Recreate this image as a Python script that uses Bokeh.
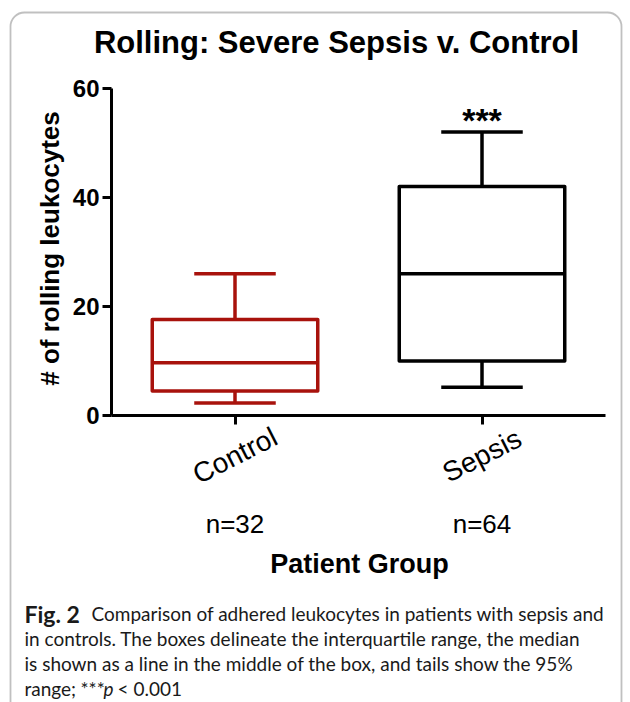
from math import pi
from bokeh.plotting import figure
from bokeh.models import (ColumnDataSource, Range1d, Label, BoxAnnotation, FixedTicker,
                          LinearAxis, Grid)
from bokeh.transform import dodge
from bokeh.core.properties import value
from bokeh.embed import file_html
from bokeh.resources import INLINE

# ---- data ----
groups = ["Control", "Sepsis"]
n_labels = ["n=32", "n=64"]
whisker_low = [2.3, 5.2]
q1 = [4.5, 10.0]
median = [9.7, 26.0]
q3 = [17.6, 42.0]
whisker_high = [26.0, 52.0]
colors = ["#A8120C", "#000000"]
sig_marks = ["", "***"]
y_ticks = [0, 20, 40, 60]

title_text = "Rolling: Severe Sepsis v. Control"
y_label = "# of rolling leukocytes"
x_label = "Patient Group"

# category slots: each group occupies one unit, centred at i + 0.5
cat_pos = [i + 0.5 for i in range(len(groups))]
X_AXIS_BOUNDS = (0, len(groups))
Y_AXIS_BOUNDS = (y_ticks[0], y_ticks[-1])

BOX_W = 0.67
CAP_W = 0.33

# ---- layout (page pixels) ----
W, H = 630, 702
PX_X0, PX_PER_X = 111.0, 247.0     # page x of category coordinate 0, px per slot
PX_Y0, PX_PER_Y = 415.0, 5.45      # page y of value 0, px per unit
ARIAL = "Liberation Sans"

x_start = -PX_X0 / PX_PER_X
x_end = (W - PX_X0) / PX_PER_X
y_end = PX_Y0 / PX_PER_Y
y_start = -(H - PX_Y0) / PX_PER_Y

def sx(xp):
    return xp

def sy(yp):
    return H - yp

src = ColumnDataSource(dict(group=groups, pos=cat_pos, n=n_labels, lo=whisker_low, q1=q1,
                            med=median, q3=q3, hi=whisker_high, color=colors,
                            sig=sig_marks, zero=[0] * len(groups)))

p = figure(width=W, height=H, output_backend="svg", toolbar_location=None,
           x_range=Range1d(x_start, x_end), y_range=Range1d(y_start, y_end),
           x_axis_location=None, y_axis_location=None, min_border=0)
p.outline_line_color = None
for r in p.center:
    if isinstance(r, Grid):
        r.visible = False
p.background_fill_color = "white"
p.border_fill_color = "white"

# card border
p.add_layout(BoxAnnotation(left=sx(10), right=sx(621), top=sy(12), bottom=sy(740),
                           left_units="screen", right_units="screen",
                           top_units="screen", bottom_units="screen",
                           fill_color=None, line_color="#2e2e2e", line_width=1.8,
                           border_radius=14))

LW = 3.5
# box
p.vbar(x="pos", bottom="q1", top="q3", width=BOX_W, source=src,
       fill_color=None, line_color="color", line_width=LW, line_join="round")
# median
p.segment(x0=dodge("pos", -BOX_W / 2), y0="med", x1=dodge("pos", BOX_W / 2), y1="med",
          source=src, line_color="color", line_width=LW)
# whisker stems
p.segment(x0="pos", y0="q3", x1="pos", y1="hi", source=src, line_color="color", line_width=LW)
p.segment(x0="pos", y0="q1", x1="pos", y1="lo", source=src, line_color="color", line_width=LW)
# caps
p.segment(x0=dodge("pos", -CAP_W / 2), y0="hi", x1=dodge("pos", CAP_W / 2), y1="hi",
          source=src, line_color="color", line_width=LW)
p.segment(x0=dodge("pos", -CAP_W / 2), y0="lo", x1=dodge("pos", CAP_W / 2), y1="lo",
          source=src, line_color="color", line_width=LW)
# significance
p.text(x="pos", y="hi", text="sig", source=src, text_align="center",
       text_baseline="alphabetic", y_offset=-12, text_font=value(ARIAL),
       text_font_style="bold", text_font_size="34px", text_color="black")

# axes (drawn at data locations inside the full-canvas frame)
yax = LinearAxis(fixed_location=X_AXIS_BOUNDS[0], bounds=Y_AXIS_BOUNDS,
                 ticker=FixedTicker(ticks=y_ticks))
yax.minor_tick_line_color = None
yax.major_tick_out = 9
yax.major_tick_in = 0
yax.axis_line_width = 3
yax.major_tick_line_width = 3
yax.major_label_text_font = ARIAL
yax.major_label_text_font_style = "bold"
yax.major_label_text_font_size = "24px"
yax.major_label_text_color = "black"
yax.major_label_standoff = 3
p.add_layout(yax, "left")

xax = LinearAxis(fixed_location=Y_AXIS_BOUNDS[0], bounds=X_AXIS_BOUNDS,
                 ticker=FixedTicker(ticks=cat_pos))
xax.minor_tick_line_color = None
xax.axis_line_width = 3
xax.major_tick_line_width = 3
xax.major_tick_out = 9
xax.major_tick_in = 0
xax.major_label_text_font_size = "0px"
xax.major_label_text_color = None
p.add_layout(xax, "below")

# category names (rotated) and counts under each tick
p.text(x="pos", y="zero", text="group", source=src, angle=0.47, y_offset=40,
       text_align="center", text_baseline="middle", text_font=value(ARIAL),
       text_font_size="28px", text_color="black")
p.text(x="pos", y="zero", text="n", source=src, y_offset=108,
       text_align="center", text_baseline="middle", text_font=value(ARIAL),
       text_font_size="26px", text_color="black")

# axis titles
p.add_layout(Label(x=sx(359), y=sy(563), x_units="screen", y_units="screen", text=x_label,
                   text_align="center", text_baseline="middle", text_font=ARIAL,
                   text_font_style="bold", text_font_size="27px", text_color="black"))
p.add_layout(Label(x=sx(49), y=sy(248), x_units="screen", y_units="screen", text=y_label,
                   angle=pi / 2, text_align="center", text_baseline="middle", text_font=ARIAL,
                   text_font_style="bold", text_font_size="26px", text_color="black"))

# title
p.add_layout(Label(x=sx(336), y=sy(42), x_units="screen", y_units="screen", text=title_text,
                   text_align="center", text_baseline="middle", text_font=ARIAL,
                   text_font_style="bold", text_font_size="31px", text_color="black"))

# caption
CAP_FONT = "Lato"
cap_lines = [
    (24, 613, "Fig. 2", "bold", "23px"),
    (91, 613, "Comparison of adhered leukocytes in patients with sepsis and", "normal", "19px"),
    (24, 638, "in controls. The boxes delineate the interquartile range, the median", "normal", "19px"),
    (24, 663, "is shown as a line in the middle of the box, and tails show the 95%", "normal", "19px"),
    (24, 688, "range;", "normal", "19px"),
    (80, 688, "***", "normal", "19px"),
    (103, 688, "p", "italic", "19px"),
    (117, 688, "< 0.001", "normal", "19px"),
]
for xp, yp, t, st, fs in cap_lines:
    p.add_layout(Label(x=sx(xp), y=sy(yp), x_units="screen", y_units="screen", text=t,
                       text_align="left", text_baseline="alphabetic", text_font=CAP_FONT,
                       text_font_style=st, text_font_size=fs, text_color="#1a1a1a"))

open("out.html", "w").write(file_html(p, INLINE))
